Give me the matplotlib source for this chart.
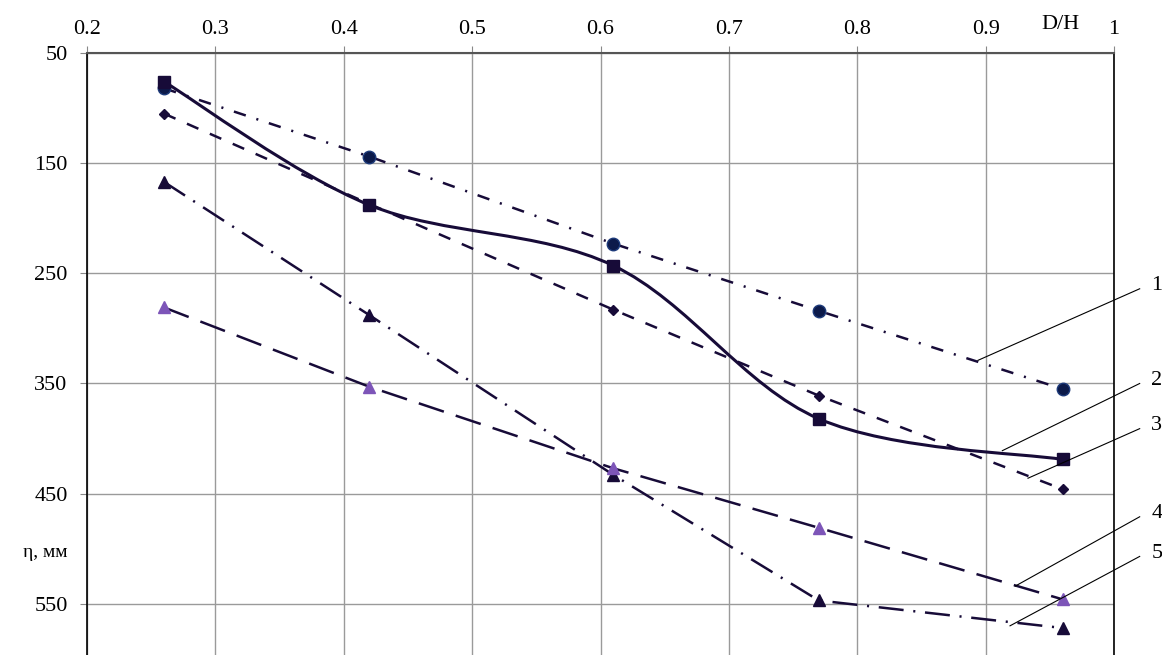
import numpy as np
import matplotlib
matplotlib.use("Agg")
from matplotlib import pyplot as plt
from matplotlib.path import Path
from matplotlib.patches import PathPatch

plt.rcParams['font.family'] = ['Liberation Serif', 'DejaVu Serif']
plt.rcParams['lines.scale_dashes'] = False

# D/H values
dh = [0.26, 0.42, 0.61, 0.77, 0.96]
# eta, mm for curves 1..5
s1 = [82, 144, 223, 284, 355]
s2 = [76, 188, 243, 382, 419]
s3 = [105, 187, 283, 361, 446]
s4 = [281, 353, 427, 481, 546]
s5 = [167, 288, 433, 547, 572]

xticks = [0.2, 0.3, 0.4, 0.5, 0.6, 0.7, 0.8, 0.9, 1.0]
xtick_labels = ['0.2', '0.3', '0.4', '0.5', '0.6', '0.7', '0.8', '0.9', '1']
yticks = [50, 150, 250, 350, 450, 550]
curve_names = ['1', '2', '3', '4', '5']

ink = '#170b38'
purple = '#7d55b8'

fig = plt.figure(figsize=(11.62, 6.55), dpi=100)
ax = fig.add_axes([0.0749, 0.0, 0.8838, 0.919])

ax.set_xlim(0.2, 1.0)
ax.set_ylim(596.5, 50)
ax.xaxis.tick_top()
ax.set_xticks(xticks)
ax.set_xticklabels(xtick_labels)
ax.set_yticks(yticks)
ax.tick_params(axis='both', labelsize=16, length=5, color='#888888')
ax.tick_params(axis='x', pad=5)
ax.tick_params(axis='y', pad=9)
ax.grid(True, color='#9a9a9a', lw=1)
ax.set_axisbelow(True)
ax.spines['bottom'].set_visible(False)
ax.spines['top'].set_color('#555555')
ax.spines['top'].set_linewidth(1.5)
for s in ['left', 'right']:
    ax.spines[s].set_color('black')
    ax.spines[s].set_linewidth(1.2)

# 1 - circles, dash-dot
ax.plot(dh, s1, color=ink, lw=1.8, dashes=(9, 8, 1.5, 8), marker='o', ms=9,
        mfc='#0c1a4a', mec='#1d3a7a', zorder=3)
# 3 - diamonds, dashed
ax.plot(dh, s3, color=ink, lw=1.8, dashes=(9, 9), marker='D', ms=5.5,
        mfc=ink, mec=ink, zorder=3)
# 4 - purple triangles, long dash
ax.plot(dh, s4, color=ink, lw=1.8, dashes=(19, 9), zorder=3)
ax.plot(dh, s4, ls='none', marker='^', ms=9, mfc=purple, mec=purple, zorder=4)
# 5 - black triangles, long dash-dot
ax.plot(dh, s5, color=ink, lw=1.8, dashes=(18, 7, 1.5, 7), marker='^', ms=8,
        mfc=ink, mec=ink, zorder=3)

# 2 - squares, smooth solid line (bezier through the points)
pts = np.column_stack([dh, s2]).astype(float)
verts = [pts[0]]
codes = [Path.MOVETO]
for i in range(len(pts) - 1):
    p0 = pts[i - 1] if i > 0 else pts[i]
    p1, p2 = pts[i], pts[i + 1]
    p3 = pts[i + 2] if i + 2 < len(pts) else pts[i + 1]
    c1 = p1 + (p2 - p0) / 6
    c2 = p2 - (p3 - p1) / 6
    verts += [c1, c2, p2]
    codes += [Path.CURVE4] * 3
ax.add_patch(PathPatch(Path(verts, codes), fill=False, ec=ink, lw=2.2, zorder=3))
ax.plot(dh, s2, ls='none', marker='s', ms=9, mfc=ink, mec=ink, zorder=4)

# leader lines and curve numbers
label_y = [261, 347, 388, 468, 504]
tips = [(0.894, 329), (0.913, 411), (0.933, 436), (0.923, 534), (0.919, 570)]
for name, ly, (tx, ty) in zip(curve_names, label_y, tips):
    ax.plot([tx, 1.020], [ty, ly + 3], color='black', lw=0.8, clip_on=False, zorder=5)
    ax.text(1.029, ly, name, fontsize=16, ha='left', va='center', clip_on=False)

ax.text(0.958, 1.047, 'D/H', transform=ax.get_xaxis_transform(), fontsize=16,
        ha='center', va='center')
ax.text(-0.0195, 503, 'η, мм', transform=ax.get_yaxis_transform(), fontsize=14,
        ha='right', va='center')

fig.savefig('out.png', dpi=100)
